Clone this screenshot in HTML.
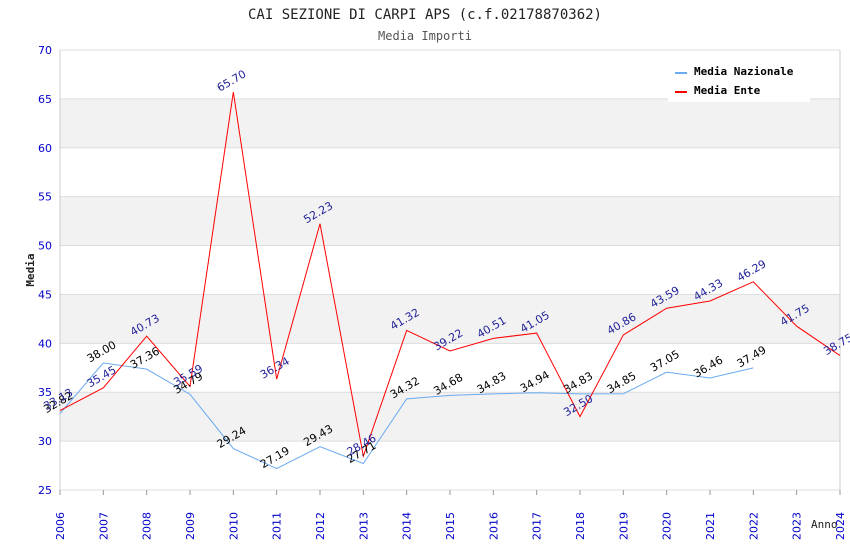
<!DOCTYPE html>
<html><head><meta charset="utf-8"><style>
body{margin:0;background:#fff;width:850px;height:550px;overflow:hidden}
svg{display:block}
</style></head><body>
<svg id="chart" width="850" height="550" xmlns="http://www.w3.org/2000/svg" font-family="'DejaVu Sans', sans-serif">
<g id="bands"></g><g id="grid"></g>
<text x="425" y="19" text-anchor="middle" font-family="'DejaVu Sans Mono', monospace" font-size="14" fill="#222">CAI SEZIONE DI CARPI APS (c.f.02178870362)</text>
<text x="425" y="40" text-anchor="middle" font-family="'DejaVu Sans Mono', monospace" font-size="12" fill="#555">Media Importi</text>
<text transform="translate(34,270) rotate(-90)" text-anchor="middle" font-family="'DejaVu Sans Mono', monospace" font-size="11" font-weight="bold" fill="#222">Media</text>
<text x="811" y="528" font-family="'DejaVu Sans Mono', monospace" font-size="11" fill="#222">Anno</text>
<g id="axes"></g><g id="series"></g><g id="labels"></g>
<g>
<rect x="668" y="60" width="142" height="42" fill="#fff"/>
<g><line x1="675" y1="73" x2="687" y2="73" stroke="#6aaaf0" stroke-width="2"/><text x="694" y="75" font-family="'DejaVu Sans Mono', monospace" font-size="11" font-weight="bold" fill="#000">Media Nazionale</text></g>
<g><line x1="675" y1="92" x2="687" y2="92" stroke="#f00" stroke-width="2"/><text x="694" y="94" font-family="'DejaVu Sans Mono', monospace" font-size="11" font-weight="bold" fill="#000">Media Ente</text></g>
</g>
</svg>
<script>
const years=[2006,2007,2008,2009,2010,2011,2012,2013,2014,2015,2016,2017,2018,2019,2020,2021,2022,2023,2024];
const nazionale=[32.82,38.00,37.36,34.79,29.24,27.19,29.43,27.71,34.32,34.68,34.83,34.94,34.83,34.85,37.05,36.46,37.49];
const ente=[33.13,35.45,40.73,35.59,65.70,36.34,52.23,28.46,41.32,39.22,40.51,41.05,32.50,40.86,43.59,44.33,46.29,41.75,38.75];
const yTicks=[25,30,35,40,45,50,55,60,65,70];
const L=60,R=840,T=50,B=490,yMin=25,yMax=70;
const NS='http://www.w3.org/2000/svg';
const xs=i=>L+(R-L)*i/(years.length-1);
const ys=v=>B-(v-yMin)/(yMax-yMin)*(B-T);
function mk(p,tag,a){const e=document.createElementNS(NS,tag);for(const k in a)e.setAttribute(k,a[k]);document.getElementById(p).appendChild(e);return e;}
for(let i=0;i<yTicks.length-1;i++){
 if(yTicks[i]%10===0){const r=mk('bands','rect',{x:L,y:ys(yTicks[i+1]),width:R-L,height:ys(yTicks[i])-ys(yTicks[i+1]),fill:'#f2f2f2'});
 
 }
}
yTicks.forEach(v=>{
 const l=mk('grid','line',{x1:L,x2:R,y1:ys(v),y2:ys(v),stroke:'#ddd'});
 
 
 const t=mk('axes','text',{x:L-8,y:ys(v)+4,'text-anchor':'end','font-size':11,fill:'#00c'});t.textContent=v;
 
 
});
mk('axes','line',{x1:L,x2:L,y1:T,y2:B,stroke:'#ccc'});
mk('axes','line',{x1:R,x2:R,y1:T,y2:B,stroke:'#ccc'});
years.forEach((y,i)=>{
 const tk=mk('axes','line',{x1:xs(i),x2:xs(i),y1:B,y2:B+5,stroke:'#999'});
 
 
 const t=mk('axes','text',{transform:`translate(${xs(i)+4},${B+50}) rotate(-90)`,'font-size':11,fill:'#00c'});t.textContent=y;
 
 
});
function series(data,color,name,lblColor){
 const p=mk('series','polyline',{points:data.map((v,i)=>xs(i)+','+ys(v)).join(' '),fill:'none',stroke:color,'stroke-width':1});
 
 
 data.forEach((v,i)=>{
  const x=xs(i),y=ys(v)-8;
  const t=mk('labels','text',{transform:`translate(${x},${y}) rotate(-30)`,'text-anchor':'middle','font-size':11,fill:lblColor});
  t.textContent=v.toFixed(2);
  
  
 });
}
series(nazionale,'#6aaaf0','media-nazionale-line','#000');
series(ente,'#f00','media-ente-line','#22229a');
</script>
</body></html>
